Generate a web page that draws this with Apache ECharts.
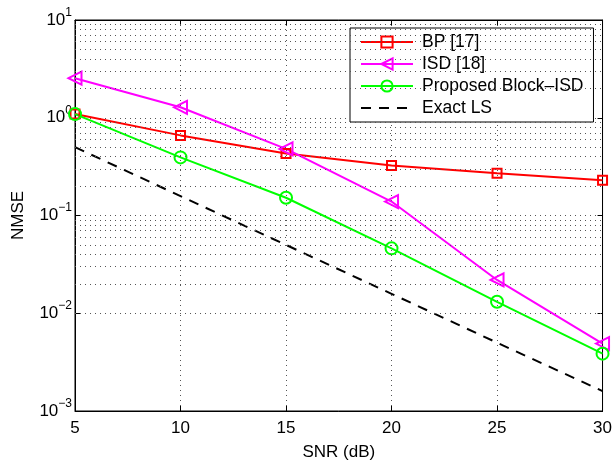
<!DOCTYPE html>
<html>
<head>
<meta charset="utf-8">
<script src="https://cdn.jsdelivr.net/npm/echarts@6/dist/echarts.min.js"></script>
<style>html,body{margin:0;padding:0;background:#fff}#c{width:615px;height:466px}</style>
</head>
<body>
<div id="c"></div>
<script>
const snr = [5, 10, 15, 20, 25, 30];
const bp = [1.09, 0.66, 0.43, 0.324, 0.27, 0.23];
const isd = [2.54, 1.28, 0.48, 0.139, 0.0219, 0.0049];
const proposed = [1.09, 0.393, 0.152, 0.0461, 0.0131, 0.00386];
const exactLS = [0.5, 0.158, 0.05, 0.0158, 0.005, 0.0016];
const seriesNames = ['BP [17]', 'ISD [18]', 'Proposed Block\u2013ISD', 'Exact LS'];
const minorTicks = [];
[0.001, 0.01, 0.1, 1].forEach(d => { for (let k = 2; k <= 9; k++) minorTicks.push(+(k * d).toPrecision(3)); });

const font = 'Liberation Sans, Arial, Helvetica, sans-serif';
const expOf = v => { const e = Math.round(Math.log10(v)); return e < 0 ? '\u2212' + (-e) : '' + e; };
const pair = arr => snr.map((x, i) => [x, arr[i]]);
const dotted = { color: '#555', width: 1, type: [1, 4] };

const chart = echarts.init(document.getElementById('c'), null, { renderer: 'canvas' });
chart.setOption({
  animation: false,
  backgroundColor: '#fff',
  grid: { left: 75, right: 11, top: 20, bottom: 48, show: true, borderColor: '#000', borderWidth: 1 },
  legend: {
    data: seriesNames,
    orient: 'vertical', left: 350, top: 28,
    padding: [5, 10, 5, 10],
    itemWidth: 52, itemHeight: 14, itemGap: 4,
    backgroundColor: '#fff', borderColor: '#000', borderWidth: 1,
    lineStyle: { width: 2 },
    textStyle: { fontFamily: font, fontSize: 17.5, lineHeight: 18, color: '#000', padding: [0, 0, 0, 4] }
  },
  xAxis: [{
    type: 'value', min: 5, max: 30, interval: 5,
    name: 'SNR (dB)', nameLocation: 'middle', nameGap: 33,
    nameTextStyle: { fontFamily: font, fontSize: 17, color: '#000' },
    axisLine: { lineStyle: { color: '#000', width: 1 } },
    axisTick: { inside: true, length: 5, lineStyle: { color: '#000' } },
    axisLabel: { fontFamily: font, fontSize: 17, color: '#000', margin: 9 },
    splitLine: { show: true, lineStyle: dotted }
  }, {
    type: 'value', min: 5, max: 30, interval: 5, position: 'top',
    axisLine: { lineStyle: { color: '#000' } },
    axisTick: { inside: true, length: 5, lineStyle: { color: '#000' } },
    axisLabel: { show: false }, splitLine: { show: false }
  }],
  yAxis: [{
    type: 'log', logBase: 10, min: 0.001, max: 10,
    name: 'NMSE', nameLocation: 'middle', nameGap: 48,
    nameTextStyle: { fontFamily: font, fontSize: 17, color: '#000' },
    axisLine: { lineStyle: { color: '#000', width: 1 } },
    axisTick: { inside: true, length: 5, lineStyle: { color: '#000' } },
    axisLabel: {
      margin: 3,
      formatter: v => '{b|10}{s|' + expOf(v) + '}',
      rich: {
        b: { fontFamily: font, fontSize: 17, color: '#000' },
        s: { fontFamily: font, fontSize: 12, color: '#000', padding: [0, 0, 15, 0] }
      }
    },
    splitLine: { show: true, lineStyle: dotted }
  }, {
    type: 'log', logBase: 10, min: 0.001, max: 10, position: 'right',
    axisLine: { lineStyle: { color: '#000' } },
    axisTick: { inside: true, length: 5, lineStyle: { color: '#000' } },
    axisLabel: { show: false }, splitLine: { show: false }
  }],
  series: [
    {
      name: 'minor-grid', type: 'line', data: [], silent: true,
      markLine: { silent: true, symbol: 'none', label: { show: false }, lineStyle: dotted,
        data: minorTicks.map(v => ({ yAxis: v })) }
    },
    {
      name: seriesNames[0], type: 'line', data: pair(bp),
      symbol: 'rect', symbolSize: 9,
      lineStyle: { color: '#ff0000', width: 2 },
      itemStyle: { color: 'rgba(255,255,255,0)', borderColor: '#ff0000', borderWidth: 2 }
    },
    {
      name: seriesNames[1], type: 'line', data: pair(isd),
      symbol: 'triangle', symbolSize: 13, symbolRotate: 90,
      lineStyle: { color: '#ff00ff', width: 2 },
      itemStyle: { color: 'rgba(255,255,255,0)', borderColor: '#ff00ff', borderWidth: 2 }
    },
    {
      name: seriesNames[2], type: 'line', data: pair(proposed),
      symbol: 'circle', symbolSize: 12,
      lineStyle: { color: '#00ff00', width: 2 },
      itemStyle: { color: 'rgba(255,255,255,0)', borderColor: '#00ff00', borderWidth: 2 }
    },
    {
      name: seriesNames[3], type: 'line', data: pair(exactLS),
      symbol: 'none',
      lineStyle: { color: '#000', width: 2, type: [10, 8] },
      itemStyle: { color: 'rgba(0,0,0,0)', borderWidth: 0 }
    }
  ]
});
</script>
</body>
</html>
